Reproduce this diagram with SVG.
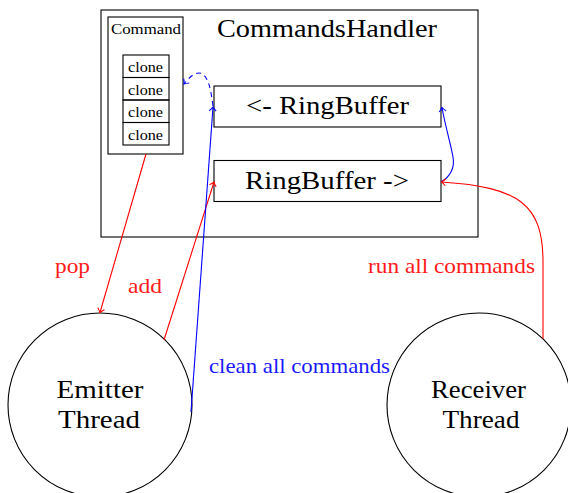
<svg xmlns="http://www.w3.org/2000/svg" width="568" height="493" viewBox="0 0 568 493">
<style>
.box{fill:none;stroke:#000;stroke-width:1.1}
.t{fill:#000}
.red{fill:none;stroke:#ff0000;stroke-width:1.1}
.blue{fill:none;stroke:#0000ff;stroke-width:1.1}
.rt{fill:#ff1a1a;font-size:21px}
.bt{fill:#1a1aff;font-size:21px}
</style>
<defs>
<marker id="ar" viewBox="-5 -5 10 10" refX="0.5" refY="0" markerWidth="10" markerHeight="10" markerUnits="userSpaceOnUse" orient="auto">
<path d="M-3.5,-3.5 Q-1,-0.8 0.5,0 Q-1,0.8 -3.5,3.5" fill="none" stroke="#ff0000" stroke-width="1.1"/>
</marker>
<marker id="ab" viewBox="-5 -5 10 10" refX="0.5" refY="0" markerWidth="10" markerHeight="10" markerUnits="userSpaceOnUse" orient="auto">
<path d="M-3.5,-3.5 Q-1,-0.8 0.5,0 Q-1,0.8 -3.5,3.5" fill="none" stroke="#0000ff" stroke-width="1.1"/>
</marker>
</defs>
<rect width="568" height="493" fill="#fff"/>
<g font-family="Liberation Serif, Times New Roman, DejaVu Serif, serif">
<g id="commandshandler">
<rect class="box" x="101" y="10" width="377" height="227"/>
<text class="t" x="217" y="37" font-size="25" textLength="220" lengthAdjust="spacingAndGlyphs">CommandsHandler</text>
</g>
<g id="command">
<rect class="box" x="108" y="17" width="75" height="137"/>
<text class="t" x="111" y="34" font-size="15" textLength="70" lengthAdjust="spacingAndGlyphs">Command</text>
<rect class="box" x="123" y="55" width="46" height="22.5"/>
<rect class="box" x="123" y="77.5" width="46" height="22.5"/>
<rect class="box" x="123" y="100" width="46" height="22.5"/>
<rect class="box" x="123" y="122.5" width="46" height="22.5"/>
<text class="t" x="128" y="72" font-size="15" textLength="35" lengthAdjust="spacingAndGlyphs">clone</text>
<text class="t" x="128" y="94.5" font-size="15" textLength="35" lengthAdjust="spacingAndGlyphs">clone</text>
<text class="t" x="128" y="117" font-size="15" textLength="35" lengthAdjust="spacingAndGlyphs">clone</text>
<text class="t" x="128" y="139.5" font-size="15" textLength="35" lengthAdjust="spacingAndGlyphs">clone</text>
</g>
<g id="ringbuffer-in">
<rect class="box" x="214" y="86" width="227" height="41"/>
<text class="t" x="246" y="114" font-size="25" textLength="163" lengthAdjust="spacingAndGlyphs">&lt;- RingBuffer</text>
</g>
<g id="ringbuffer-out">
<rect class="box" x="214" y="160.5" width="227" height="41"/>
<text class="t" x="245" y="189" font-size="25" textLength="164" lengthAdjust="spacingAndGlyphs">RingBuffer -&gt;</text>
</g>
<g id="emitter">
<circle class="box" cx="100" cy="405" r="92"/>
<text class="t" x="100" y="398" font-size="26" text-anchor="middle" textLength="87" lengthAdjust="spacingAndGlyphs">Emitter</text>
<text class="t" x="99" y="428" font-size="26" text-anchor="middle" textLength="82" lengthAdjust="spacingAndGlyphs">Thread</text>
</g>
<g id="receiver">
<circle class="box" cx="479" cy="405" r="92"/>
<text class="t" x="478.5" y="398" font-size="26" text-anchor="middle" textLength="95" lengthAdjust="spacingAndGlyphs">Receiver</text>
<text class="t" x="481" y="428" font-size="26" text-anchor="middle" textLength="77" lengthAdjust="spacingAndGlyphs">Thread</text>
</g>
<g id="connectors">
<path class="red" d="M146,154 L100,312.5" marker-end="url(#ar)"/>
<path class="red" d="M164,340 L214,182" marker-end="url(#ar)"/>
<path class="blue" d="M191,412 L213,107" marker-end="url(#ab)"/>
<path class="blue" d="M213,106 C211,90 208,73 199,73 C193,73 188,79 184,84" stroke-dasharray="5,4" marker-end="url(#ab)"/>
<path class="blue" d="M441,182 C450,177 455,168 453,157 C451,145 445,125 442,107.5" marker-end="url(#ab)"/>
<path class="red" d="M543,339 L543,262 C543,205 520,187 441.5,182" marker-end="url(#ar)"/>
<text class="rt" x="55" y="273" textLength="35" lengthAdjust="spacingAndGlyphs">pop</text>
<text class="rt" x="128" y="293" textLength="34" lengthAdjust="spacingAndGlyphs">add</text>
<text class="rt" x="368" y="273" textLength="167" lengthAdjust="spacingAndGlyphs">run all commands</text>
<text class="bt" x="209" y="373" textLength="181" lengthAdjust="spacingAndGlyphs">clean all commands</text>
</g>
</g>
</svg>
